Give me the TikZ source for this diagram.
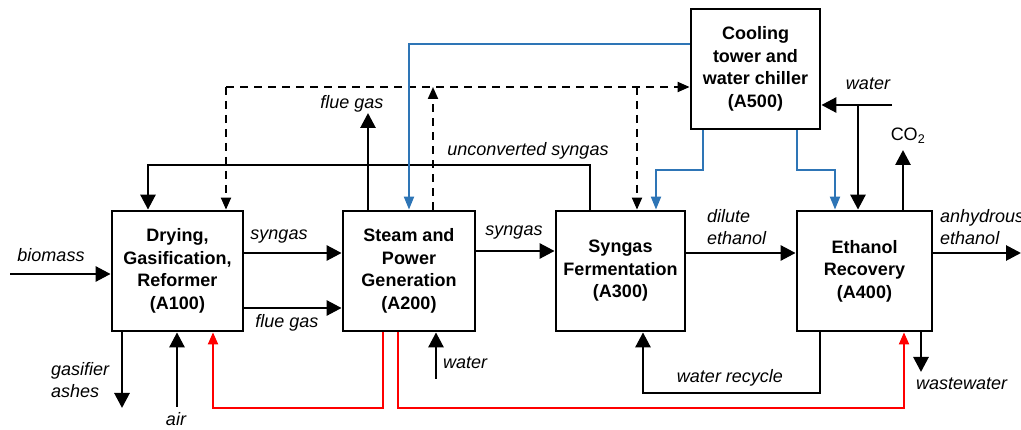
\documentclass[tikz,border=0pt]{standalone}
\usepackage{fontspec}
\setmainfont{Liberation Sans}
\usetikzlibrary{arrows.meta}
\definecolor{cblue}{RGB}{46,117,182}
\begin{document}
\begin{tikzpicture}[x=1pt,y=-1pt,
  box/.style={draw, line width=2.8pt, inner sep=0pt, align=center,
    minimum width=#1, minimum height=120pt,
    font=\bfseries\fontsize{18}{22.5}\selectfont},
  lbl/.style={inner sep=0pt, font=\itshape\fontsize{18}{22.5}\selectfont},
  arr/.style={line width=2.8pt, -{Triangle[length=15pt,width=15pt]}},
  darr/.style={line width=2pt, dash pattern=on 8pt off 6pt, -{Triangle[length=12pt,width=10pt]}},
  blu/.style={line width=2pt, cblue, -{Triangle[length=13pt,width=10pt]}},
  redl/.style={line width=2pt, red, -{Triangle[length=12pt,width=10pt]}}]
\useasboundingbox (0,0) rectangle (1021,430);
% boxes
\node[box=131pt] (A100) at (177.5,271) {Drying,\\Gasification,\\Reformer\\(A100)};
\node[box=132pt] (A200) at (409,271) {Steam and\\Power\\Generation\\(A200)};
\node[box=129pt] (A300) at (620.5,271) {Syngas\\Fermentation\\(A300)};
\node[box=135pt] (A400) at (864.5,271) {Ethanol\\Recovery\\(A400)};
\node[box=129pt] (A500) at (755.5,69) {Cooling\\tower and\\water chiller\\(A500)};
% free ends
\coordinate (bio) at (10,274);
\coordinate (ash) at (122,408);
\coordinate (air) at (177,407);
\coordinate (w2) at (436,379);
\coordinate (out) at (1021,253);
\coordinate (ww) at (921,372);
\coordinate (fg) at (368,113);
\coordinate (co2) at (903,150);
\coordinate (w5) at (892,105);
\coordinate (wj) at (858,105);
\coordinate (dj) at (433,87);
\coordinate (dl) at (226,87);
\coordinate (dr) at (637,87);
% black streams
\draw[arr] (bio) -- (A100.west |- bio);
\node[lbl] (tbio) at (51,255) {biomass};
\draw[arr] (A100.east |- 0,253) -- (A200.west |- 0,253);
\node[lbl] (tsyn1) at (279,237) {syngas};
\draw[arr] (A100.east |- 0,308) -- (A200.west |- 0,308);
\node[lbl] (tflue1) at (287,323) {flue gas};
\draw[arr] (A100.south -| ash) -- (ash);
\node[lbl, align=left, anchor=west] (tash) at (51,380) {gasifier\\ashes};
\draw[arr] (air) -- (A100.south -| air);
\node[lbl] (tair) at (176,419) {air};
\draw[arr] (w2) -- (A200.south -| w2);
\node[lbl, anchor=west] (tw2) at (443,363) {water};
\draw[arr] (A200.east |- 0,251) -- (A300.west |- 0,251);
\node[lbl] (tsyn2) at (514,233) {syngas};
\draw[arr] (A300.east |- 0,253) -- (A400.west |- 0,253);
\node[lbl, align=left, anchor=west] (tdil) at (707,227) {dilute\\ethanol};
\draw[arr] (A400.east |- out) -- (out);
\node[lbl, align=left, anchor=west] (tanh) at (940,227) {anhydrous\\ethanol};
\draw[arr] (A400.south -| ww) -- (ww);
\node[lbl, anchor=west] (tww) at (916,384) {wastewater};
\draw[arr] (A400.south -| 820,0) |- (643,393) -- (A300.south -| 643,0);
\node[lbl] (trec) at (730,378) {water recycle};
\draw[arr] (A200.north -| fg) -- (fg);
\node[lbl] (tfg) at (352,104) {flue gas};
\draw[arr] (A300.north -| 590,0) |- (148,165) -- (A100.north -| 148,0);
\node[lbl] (tunc) at (528,151) {unconverted syngas};
\draw[arr] (w5) -- (A500.east |- w5);
\draw[arr] (wj) -- (A400.north -| wj);
\node[lbl] (tw5) at (868,84) {water};
\draw[arr] (A400.north -| co2) -- (co2);
\node[inner sep=0pt, font=\fontsize{18}{22.5}\selectfont] (tco2) at (908,136) {CO\textsubscript{2}};
% dashed
\draw[darr] (A200.north -| dj) -- (dj);
\draw[darr] (dl) -- (A500.west |- dl);
\draw[darr] (dl) -- (A100.north -| dl);
\draw[darr] (dr) -- (A300.north -| dr);
% blue
\draw[blu] (A500.west |- 0,44) -| (A200.north -| 409,0);
\draw[blu] (A500.south -| 703,0) |- (656,170) -- (A300.north -| 656,0);
\draw[blu] (A500.south -| 797,0) |- (835,170) -- (A400.north -| 835,0);
% red
\draw[redl] (A200.south -| 383,0) |- (213,408) -- (A100.south -| 213,0);
\draw[redl] (A200.south -| 398,0) |- (904,408) -- (A400.south -| 904,0);
\end{tikzpicture}
\end{document}
